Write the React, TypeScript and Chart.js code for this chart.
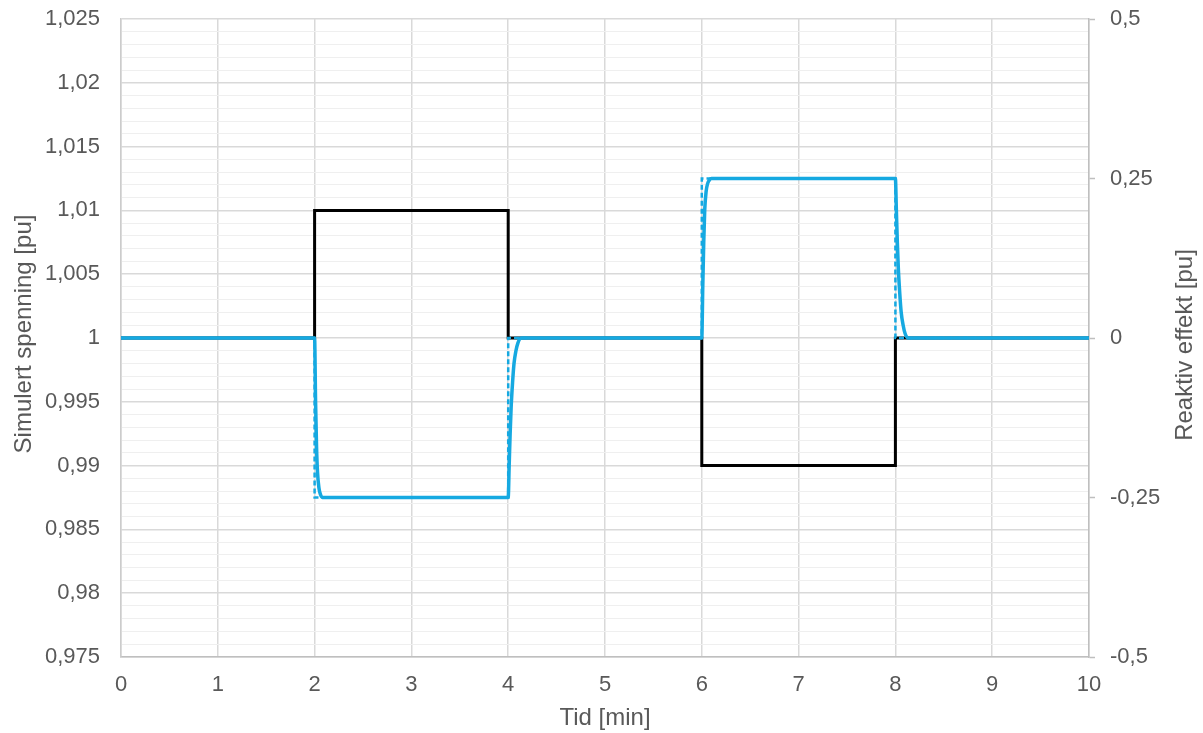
import React, { useEffect, useRef } from "react";
import { Chart, registerables } from "chart.js";

Chart.register(...registerables);

// ---- data ----
const voltageTime = [0, 2, 2, 4, 4, 6, 6, 8, 8, 10];
const voltageValues = [1, 1, 1.01, 1.01, 1, 1, 0.99, 0.99, 1, 1];

const refTime = [0, 2, 2, 4, 4, 6, 6, 8, 8, 10];
const refQ = [0, 0, -0.25, -0.25, 0, 0, 0.25, 0.25, 0, 0];

const simTime = [
  0, 2, 2.01, 2.02, 2.03, 2.045, 2.06, 2.08,
  4, 4.01, 4.02, 4.03, 4.045, 4.06, 4.08, 4.1, 4.13,
  6, 6.01, 6.02, 6.03, 6.045, 6.06, 6.08, 6.1,
  8, 8.01, 8.02, 8.03, 8.045, 8.06, 8.08, 8.1, 8.13,
  10,
];
const simQ = [
  0, 0, -0.1, -0.17, -0.21, -0.235, -0.245, -0.25,
  -0.25, -0.2, -0.15, -0.11, -0.07, -0.04, -0.02, -0.008, 0,
  0, 0.08, 0.15, 0.2, 0.23, 0.242, 0.248, 0.25,
  0.25, 0.2, 0.15, 0.11, 0.07, 0.04, 0.02, 0.007, 0,
  0,
];

const xTicks = [0, 1, 2, 3, 4, 5, 6, 7, 8, 9, 10];
const leftMajorTicks = [0.975, 0.98, 0.985, 0.99, 0.995, 1, 1.005, 1.01, 1.015, 1.02, 1.025];
const rightTicks = [-0.5, -0.25, 0, 0.25, 0.5];

const xTitle = "Tid [min]";
const leftTitle = "Simulert spenning [pu]";
const rightTitle = "Reaktiv effekt [pu]";

const FONT = "'Liberation Sans', Arial, sans-serif";
const TEXT = "#595959";
const BLUE = "#16A9E1";

const fmt = (v: number) => String(Number(v.toFixed(4))).replace(".", ",");

const titlesPlugin = {
  id: "titles",
  afterDraw(chart: any) {
    const ctx = chart.ctx as CanvasRenderingContext2D;
    const ca = chart.chartArea;
    ctx.save();
    ctx.fillStyle = TEXT;
    ctx.font = `24px ${FONT}`;
    ctx.textAlign = "center";
    ctx.textBaseline = "middle";
    ctx.fillText(xTitle, (ca.left + ca.right) / 2, 718);
    ctx.save();
    ctx.translate(24, 334);
    ctx.rotate(-Math.PI / 2);
    ctx.fillText(leftTitle, 0, 0);
    ctx.restore();
    ctx.save();
    ctx.translate(1185, 345);
    ctx.rotate(-Math.PI / 2);
    ctx.fillText(rightTitle, 0, 0);
    ctx.restore();
    ctx.restore();
  },
};

export default function App() {
  const ref = useRef<HTMLCanvasElement | null>(null);
  useEffect(() => {
    if (!ref.current) return;
    const isMajor = (v: number) => leftMajorTicks.some((m) => Math.abs(m - v) < 1e-7);
    const chart = new Chart(ref.current, {
      type: "line",
      data: {
        datasets: [
          {
            label: "Simulert Q",
            data: simTime.map((t, i) => ({ x: t, y: simQ[i] })),
            yAxisID: "y1",
            borderColor: BLUE,
            borderWidth: 3.5,
            pointRadius: 0,
            cubicInterpolationMode: "monotone",
            fill: false,
          },
          {
            label: "Referanse Q",
            data: refTime.map((t, i) => ({ x: t, y: refQ[i] })),
            yAxisID: "y1",
            borderColor: BLUE,
            borderWidth: 2.5,
            borderDash: [5, 3],
            pointRadius: 0,
            tension: 0,
            fill: false,
          },
          {
            label: "Spenning",
            data: voltageTime.map((t, i) => ({ x: t, y: voltageValues[i] })),
            yAxisID: "y",
            borderColor: "#000000",
            borderWidth: 3,
            pointRadius: 0,
            tension: 0,
            fill: false,
          },
        ],
      },
      options: {
        animation: false,
        responsive: true,
        maintainAspectRatio: false,
        layout: { padding: { top: 19, left: 0, right: 0, bottom: 0 } },
        plugins: { legend: { display: false }, tooltip: { enabled: false } },
        scales: {
          x: {
            type: "linear",
            min: 0,
            max: 10,
            afterBuildTicks: (s: any) => {
              s.ticks = xTicks.map((v) => ({ value: v }));
            },
            afterFit: (s: any) => {
              s.height = 76;
              s.paddingLeft = 0;
              s.paddingRight = 0;
            },
            ticks: {
              color: TEXT,
              font: { family: FONT, size: 22 },
              padding: 15,
              maxRotation: 0,
              autoSkip: false,
              callback: (v: any) => String(v),
            },
            grid: { color: "#d9d9d9", lineWidth: 1.5, drawTicks: false },
            border: { color: "#bfbfbf", width: 1.5 },
          },
          y: {
            type: "linear",
            position: "left",
            min: 0.975,
            max: 1.025,
            afterBuildTicks: (s: any) => {
              const arr: any[] = [];
              for (let i = 0; i <= 50; i++) arr.push({ value: Number((0.975 + i * 0.001).toFixed(3)) });
              s.ticks = arr;
            },
            afterFit: (s: any) => {
              s.width = 121;
              s.paddingTop = 0;
              s.paddingBottom = 0;
            },
            ticks: {
              color: TEXT,
              font: { family: FONT, size: 22 },
              padding: 21,
              autoSkip: false,
              callback: (v: any) => (isMajor(Number(v)) ? fmt(Number(v)) : ""),
            },
            grid: {
              drawTicks: false,
              color: (c: any) => (c.tick && isMajor(c.tick.value) ? "#d9d9d9" : "#efefef"),
              lineWidth: (c: any) => (c.tick && isMajor(c.tick.value) ? 1.5 : 1),
            },
            border: { color: "#cccccc", width: 1.5 },
          },
          y1: {
            type: "linear",
            position: "right",
            min: -0.5,
            max: 0.5,
            afterBuildTicks: (s: any) => {
              s.ticks = rightTicks.map((v) => ({ value: v }));
            },
            afterFit: (s: any) => {
              s.width = 114;
              s.paddingTop = 0;
              s.paddingBottom = 0;
            },
            ticks: {
              color: TEXT,
              font: { family: FONT, size: 22 },
              padding: 15,
              autoSkip: false,
              callback: (v: any) => fmt(Number(v)),
            },
            grid: {
              drawOnChartArea: false,
              drawTicks: true,
              tickLength: 6,
              tickColor: "#bfbfbf",
              tickWidth: 1.5,
            },
            border: { color: "#bfbfbf", width: 1.5 },
          },
        },
      },
      plugins: [titlesPlugin],
    } as any);
    return () => chart.destroy();
  }, []);
  return (
    <div style={{ position: "absolute", left: 0, top: 0, width: 1203, height: 733, background: "#fff" }}>
      <canvas ref={ref} />
    </div>
  );
}
